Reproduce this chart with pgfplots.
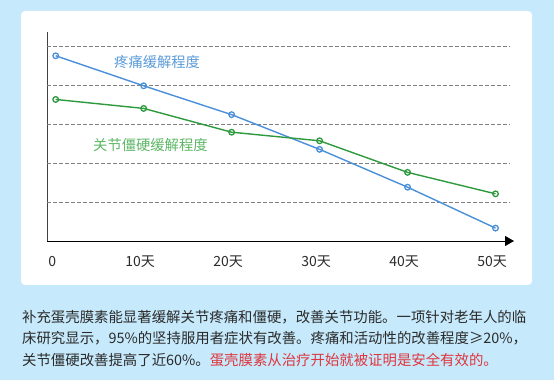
\documentclass[border=0pt]{standalone}
\usepackage{fontspec}
\setmainfont{Noto Sans CJK SC}
\usepackage{pgfplots}
\pgfplotsset{compat=1.18}
\usetikzlibrary{arrows.meta}
\definecolor{bgblue}{HTML}{C6E9FB}
\definecolor{lineblue}{HTML}{4A90D9}
\definecolor{labelblue}{HTML}{5A9BDA}
\definecolor{linegreen}{HTML}{2E9A3E}
\definecolor{labelgreen}{HTML}{5DB766}
\definecolor{txt}{HTML}{2B2B2B}
\definecolor{redtxt}{HTML}{E0353D}
\begin{document}
\begin{tikzpicture}[x=1pt,y=1pt]
\fill[bgblue] (0,0) rectangle (554,380);
\fill[white, rounded corners=4pt] (21,95) rectangle (532,369);
\begin{axis}[
  at={(47pt,139pt)}, anchor=south west,
  scale only axis, width=467pt, height=209pt,
  xmin=-0.99, xmax=52.1, ymin=0, ymax=107.2,
  axis x line=bottom, axis y line=left,
  x axis line style={-{Triangle[length=9pt,width=10pt]}, color=black, line width=0.8pt},
  y axis line style={-, color=txt!90, line width=0.8pt},
  xtick={0,10,20,30,40,50},
  xticklabels={0,10天,20天,30天,40天,50天},
  ytick=\empty,
  major tick length=0pt,
  xticklabel style={anchor=center, yshift=-21pt, xshift=-3.5pt, text=txt, font=\fontsize{14}{14}\selectfont},
  clip=false,
]
\foreach \yy in {20,40,60,80,100}{
  \edef\temp{\noexpand\draw[gray, dash pattern=on 4pt off 2pt, line width=0.6pt] (axis cs:-0.99,\yy) -- (axis cs:51.6,\yy);}
  \temp
}
\addplot[lineblue, line width=1.4pt, mark=o, mark size=2.8pt, mark options={fill=white, line width=1.3pt}]
  coordinates {(0,95) (10,79.6) (20,64.8) (30,47) (40,27.6) (50,6.6)};
\addplot[linegreen, line width=1.4pt, mark=o, mark size=2.8pt, mark options={fill=white, line width=1.3pt}]
  coordinates {(0,72.6) (10,68) (20,55.8) (30,51.4) (40,35.2) (50,24.2)};
\end{axis}
\node[anchor=west, inner sep=0pt, text=labelblue, font=\fontsize{14.3}{14.3}\selectfont] at (114,318.3) {疼痛缓解程度};
\node[anchor=west, inner sep=0pt, text=labelgreen, font=\fontsize{14.3}{14.3}\selectfont] at (93,235) {关节僵硬缓解程度};
\begin{scope}[every node/.style={anchor=base west, inner sep=0pt, text=txt, font=\fontsize{14.4}{14.4}\selectfont}]
\node at (22,57.7) {补充蛋壳膜素能显著缓解关节疼痛和僵硬，改善关节功能。一项针对老年人的临};
\node at (22,36.4) {床研究显示，95\%的坚持服用者症状有改善。疼痛和活动性的改善程度≥20\%，};
\node at (22,14.7) {关节僵硬改善提高了近60\%。\textcolor{redtxt}{蛋壳膜素从治疗开始就被证明是安全有效的。}};
\end{scope}
\end{tikzpicture}
\end{document}
